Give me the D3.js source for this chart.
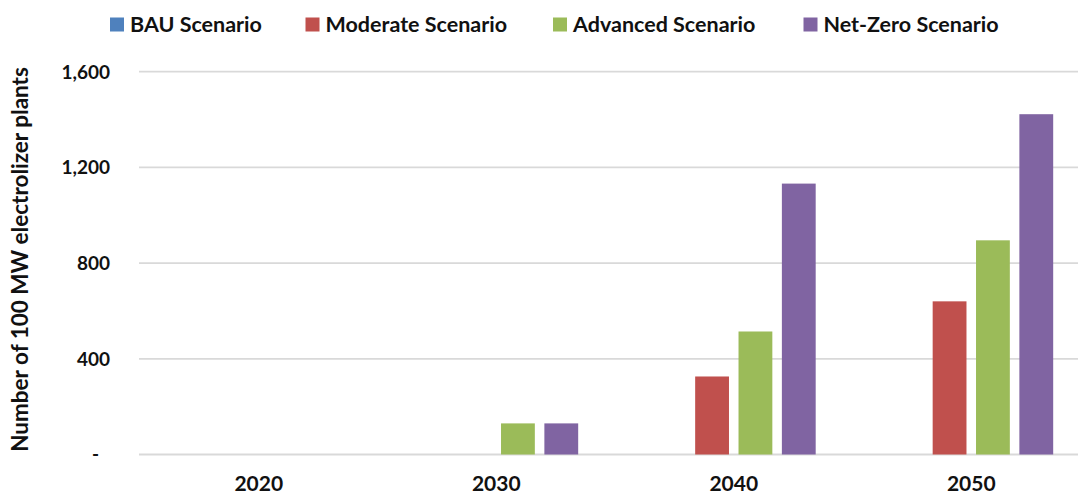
<!DOCTYPE html>
<html>
<head>
<meta charset="utf-8">
<script src="https://cdn.jsdelivr.net/npm/d3@7"></script>
<style>
  html, body { margin: 0; padding: 0; background: #fff; }
  svg { display: block; font-family: Lato, 'Open Sans', sans-serif; font-weight: bold; }
</style>
</head>
<body>
<svg width="1078" height="494"></svg>
<script>
const width = 1078;
const height = 494;

// data
const years = ['2020', '2030', '2040', '2050'];
const scenarios = ['BAU Scenario', 'Moderate Scenario', 'Advanced Scenario', 'Net-Zero Scenario'];
const bau = [0, 0, 0, 0];
const moderate = [0, 0, 326, 640];
const advanced = [0, 130, 514, 895];
const netZero = [0, 130, 1132, 1422];
const yTicks = [0, 400, 800, 1200, 1600];
const colors = ['#4f81bd', '#c0504d', '#9bbb59', '#8064a2'];

const seriesValues = [bau, moderate, advanced, netZero];

// layout
const plot = { left: 140, right: 1090, top: 71.6, bottom: 454.5 };
const legendX = [110, 305.5, 553, 803.5];

const svg = d3.select('svg');

const x0 = d3.scaleBand()
    .domain(years)
    .range([plot.left, plot.right])
    .paddingInner(0.31)
    .paddingOuter(0.155);

const x1 = d3.scaleBand()
    .domain(scenarios)
    .range([0, x0.bandwidth()])
    .paddingInner(0.22);

const y = d3.scaleLinear()
    .domain([0, 1600])
    .range([plot.bottom, plot.top]);

const color = d3.scaleOrdinal()
    .domain(scenarios)
    .range(colors);

// gridlines
svg.append('g')
    .selectAll('line')
    .data(yTicks)
    .join('line')
    .attr('x1', plot.left - 1)
    .attr('x2', width)
    .attr('y1', d => y(d))
    .attr('y2', d => y(d))
    .attr('stroke', '#d9d9d9')
    .attr('stroke-width', 1.8);

// y axis labels
const yAxis = svg.append('g')
    .attr('transform', `translate(110, 0)`)
    .call(d3.axisLeft(y)
        .tickValues(yTicks)
        .tickSize(0)
        .tickPadding(0)
        .tickFormat(d => d === 0 ? '-' : d3.format(',')(d)));
yAxis.select('.domain').remove();
yAxis.selectAll('text')
    .attr('font-family', 'Lato, sans-serif')
    .attr('font-size', 19)
    .attr('font-weight', 'bold')
    .attr('fill', '#111')
    .attr('dy', '0.34em')
    .attr('dx', d => d === 0 ? -11 : 0);

// x axis labels
const xAxis = svg.append('g')
    .attr('transform', `translate(0, ${plot.bottom})`)
    .call(d3.axisBottom(x0).tickSize(0).tickPadding(0));
xAxis.select('.domain').remove();
xAxis.selectAll('text')
    .attr('font-family', 'Lato, sans-serif')
    .attr('font-size', 21)
    .attr('font-weight', 'bold')
    .attr('fill', '#111')
    .attr('y', 36)
    .attr('dy', 0);

// bars
const groups = svg.append('g')
    .selectAll('g')
    .data(years)
    .join('g')
    .attr('transform', d => `translate(${x0(d)}, 0)`);

groups.selectAll('rect')
    .data((d, i) => scenarios.map((s, j) => ({ key: s, value: seriesValues[j][i] })))
    .join('rect')
    .attr('x', d => x1(d.key))
    .attr('width', x1.bandwidth())
    .attr('y', d => y(d.value))
    .attr('height', d => y(0) - y(d.value))
    .attr('fill', d => color(d.key));

// y title
svg.append('text')
    .attr('transform', `translate(27.5, 259.5) rotate(-90)`)
    .attr('text-anchor', 'middle')
    .attr('font-size', 22.5)
    .attr('fill', '#111')
    .text('Number of 100 MW electrolizer plants');

// legend
const legend = svg.append('g')
    .selectAll('g')
    .data(scenarios)
    .join('g')
    .attr('transform', (d, i) => `translate(${legendX[i]}, 17.5)`);

legend.append('rect')
    .attr('width', 14)
    .attr('height', 14)
    .attr('fill', d => color(d));

legend.append('text')
    .attr('x', 20)
    .attr('y', 14)
    .attr('font-size', 21.5)
    .attr('fill', '#111')
    .text(d => d);
</script>
</body>
</html>
